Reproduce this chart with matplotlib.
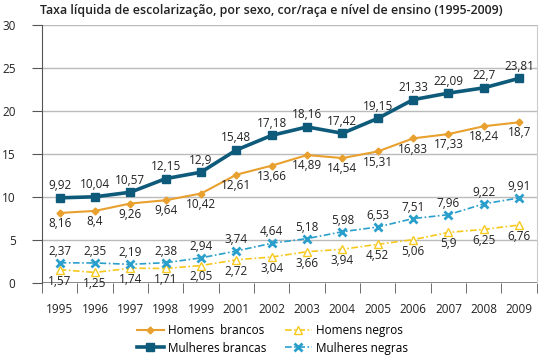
import matplotlib
matplotlib.use("Agg")
from matplotlib import pyplot as plt
from matplotlib.ticker import FixedLocator

plt.rcParams['font.family'] = ['Open Sans', 'DejaVu Sans']

anos = ['1995', '1996', '1997', '1998', '1999', '2001', '2002',
        '2003', '2004', '2005', '2006', '2007', '2008', '2009']
homens_brancos = [8.16, 8.4, 9.26, 9.64, 10.42, 12.61, 13.66,
                  14.89, 14.54, 15.31, 16.83, 17.33, 18.24, 18.7]
mulheres_brancas = [9.92, 10.04, 10.57, 12.15, 12.9, 15.48, 17.18,
                    18.16, 17.42, 19.15, 21.33, 22.09, 22.7, 23.81]
homens_negros = [1.57, 1.25, 1.74, 1.71, 2.05, 2.72, 3.04,
                 3.66, 3.94, 4.52, 5.06, 5.9, 6.25, 6.76]
mulheres_negras = [2.37, 2.35, 2.19, 2.38, 2.94, 3.74, 4.64,
                   5.18, 5.98, 6.53, 7.51, 7.96, 9.22, 9.91]

def fmt(v):
    return ('%g' % v).replace('.', ',')

fig = plt.figure(figsize=(5.45, 3.58), dpi=100)
ax = fig.add_axes([0.077, 0.209, 0.908, 0.721])
x = list(range(len(anos)))

c_hb = '#E8A02E'
c_mb = '#0E5A7A'
c_hn = '#F7C81E'
c_mn = '#2A9FCB'

ax.plot(x, homens_brancos, color=c_hb, lw=1.5, marker='D', ms=3.5,
        label='Homens  brancos', zorder=3)
ax.plot(x, mulheres_brancas, color=c_mb, lw=2.6, marker='s', ms=6,
        label='Mulheres brancas', zorder=4)
ax.plot(x, homens_negros, color=c_hn, lw=1.2, ls=(0, (4, 1.5, 1, 1.5)),
        marker='^', ms=6, mfc='white', mec=c_hn, label='Homens negros', zorder=3)
ax.plot(x, mulheres_negras, color=c_mn, lw=1.2, ls=(0, (4, 1.5, 1, 1.5)),
        marker='x', ms=6, mew=2, label='Mulheres negras', zorder=3)

lab = dict(fontsize=8.5, color='#222222', ha='center')
for i in x:
    ax.annotate(fmt(mulheres_brancas[i]), (i, mulheres_brancas[i]),
                xytext=(0, 4), textcoords='offset points', va='bottom', **lab)
    ax.annotate(fmt(homens_brancos[i]), (i, homens_brancos[i]),
                xytext=(0, -3), textcoords='offset points', va='top', **lab)
    ax.annotate(fmt(mulheres_negras[i]), (i, mulheres_negras[i]),
                xytext=(0, 3.5), textcoords='offset points', va='bottom', **lab)
    ax.annotate(fmt(homens_negros[i]), (i, homens_negros[i]),
                xytext=(0, -3.5), textcoords='offset points', va='top', **lab)

ax.set_xlim(-0.5, len(anos) - 0.5)
ax.set_ylim(0, 30)
ax.set_yticks(range(0, 31, 5))
ax.set_xticks(x)
ax.set_xticklabels(anos)
ax.xaxis.set_minor_locator(FixedLocator([i - 0.5 for i in range(len(anos) + 1)]))
ax.tick_params(axis='x', which='major', length=0, labelsize=8.5, pad=14,
               labelcolor='#222222')
ax.tick_params(axis='x', which='minor', length=7, color='#555555', direction='out')
ax.tick_params(axis='y', length=7, color='#555555', labelsize=8.5,
               labelcolor='#222222', pad=12)
ax.grid(axis='y', color='#BBBBBB', lw=1)
ax.set_axisbelow(True)
for s in ['top', 'bottom']:
    ax.spines[s].set_visible(False)
ax.spines['left'].set_color('#555555')
ax.spines['right'].set_color('#CCCCCC')
ax.axhline(0, color='#777777', lw=1.2, zorder=2)

fig.text(0.073, 0.97, 'Taxa líquida de escolarização, por sexo, cor/raça e nível de ensino (1995-2009)',
         fontsize=8.9, fontweight='semibold', color='#222222', va='center')

handles, labels = ax.get_legend_handles_labels()
fig.legend(handles, labels,
           loc='lower center', bbox_to_anchor=(0.5, -0.02), ncol=2, frameon=False,
           fontsize=8.5, handlelength=2.3, columnspacing=1.5, labelspacing=0.35,
           handletextpad=0.4)

plt.savefig('out.png', dpi=100)
